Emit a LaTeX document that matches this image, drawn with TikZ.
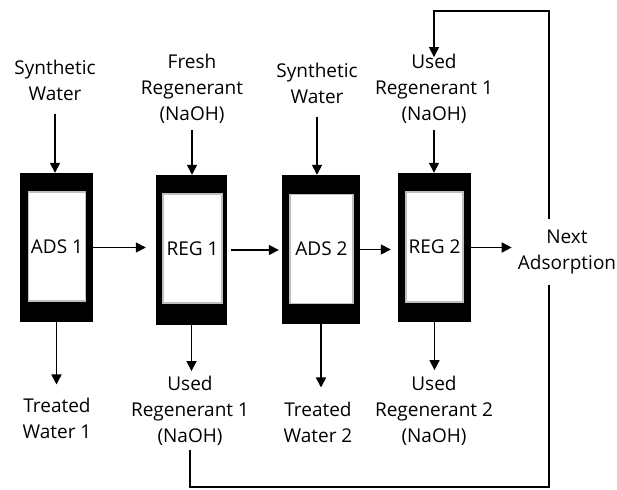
\documentclass[tikz,border=0pt]{standalone}
\usepackage{fontspec}
\setmainfont{Open Sans}
\usetikzlibrary{arrows.meta,positioning,calc}

\tikzset{
  column/.style={fill=black,inner sep=0pt,minimum width=73pt,minimum height=149pt},
  core/.style={fill=white,draw=black!25,line width=1.2pt,inner sep=0pt,minimum width=57pt,minimum height=109pt},
  stream/.style={align=center,inner sep=1pt},
  flow/.style={-{Triangle[length=10pt,width=10pt]},line width=1.6pt},
  recycle/.style={line width=1.6pt},
}

\begin{document}
\begin{tikzpicture}[x=1pt,y=-1pt,font=\fontsize{19}{26}\selectfont]
\useasboundingbox (0,0) rectangle (617,489);
% columns
\node[column] (ads1) at (56.5,247.5) {};
\node[core] (ads1in) at (57,246.5) {ADS 1};
\node[column,minimum width=71pt,minimum height=150pt] (reg1) at (191.5,250) {};
\node[core,minimum width=59pt] (reg1in) at (192.5,248.5) {REG 1};
\node[column,minimum width=78pt] (ads2) at (321,249.5) {};
\node[core,minimum width=63pt] (ads2in) at (321.5,249) {ADS 2};
\node[column] (reg2) at (434.5,247.5) {};
\node[core,minimum height=110pt] (reg2in) at (434.5,247) {REG 2};

% streams in
\node[stream] (sw1) at (55,80) {Synthetic\\Water};
\node[stream] (fresh) at (192,89) {Fresh\\Regenerant\\(NaOH)};
\node[stream] (sw2) at (317,83) {Synthetic\\Water};
\node[stream] (used2t) at (434,89) {Used\\Regenerant 1\\(NaOH)};

% streams out
\node[stream] (tw1) at (57,418) {Treated\\Water 1};
\node[stream] (used1b) at (190,411) {Used\\Regenerant 1\\(NaOH)};
\node[stream] (tw2) at (318,422) {Treated\\Water 2};
\node[stream] (used2b) at (434,411) {Used\\Regenerant 2\\(NaOH)};
\node[stream,inner ysep=11pt] (next) at (567,252) {Next\\Adsorption};

% feed arrows
\draw[flow,shorten <=12pt] (sw1.south) -- (sw1.south |- ads1.north);
\draw[flow,shorten <=5pt] (fresh.south) -- (fresh.south |- reg1.north);
\draw[flow,shorten <=12pt] (sw2.south) -- (sw2.south |- ads2.north);
\draw[flow,shorten <=5pt] (used2t.south) -- (used2t.south |- reg2.north);

% product arrows
\draw[flow,shorten >=12pt] (ads1.south) -- (ads1.south |- tw1.north);
\draw[flow,shorten >=4pt] (reg1.south) -- (reg1.south |- used1b.north);
\draw[flow,shorten >=13pt] (ads2.south) -- (ads2.south |- tw2.north);
\draw[flow,shorten >=5pt] (reg2.south) -- (reg2.south |- used2b.north);

% train
\draw[flow,shorten >=10pt] (ads1.east) -- (reg1.west |- ads1.east);
\draw[flow,shorten <=4pt,shorten >=3pt] (reg1.east) -- (ads2.west |- reg1.east);
\draw[flow,shorten >=7pt] (ads2.east) -- (reg2.west |- ads2.east);
\draw[flow,shorten >=5pt] (reg2.east) -- (next.west |- reg2.east);

% regenerant recycle
\coordinate (rbot) at (549,487);
\coordinate (rtop) at (549,11);
\draw[recycle,shorten <=3pt] (used1b.south) |- (rbot) -- (rbot |- next.south);
\draw[flow,shorten >=-4pt] (rtop |- next.north) -- (rtop) -| (used2t.north);
\end{tikzpicture}
\end{document}
